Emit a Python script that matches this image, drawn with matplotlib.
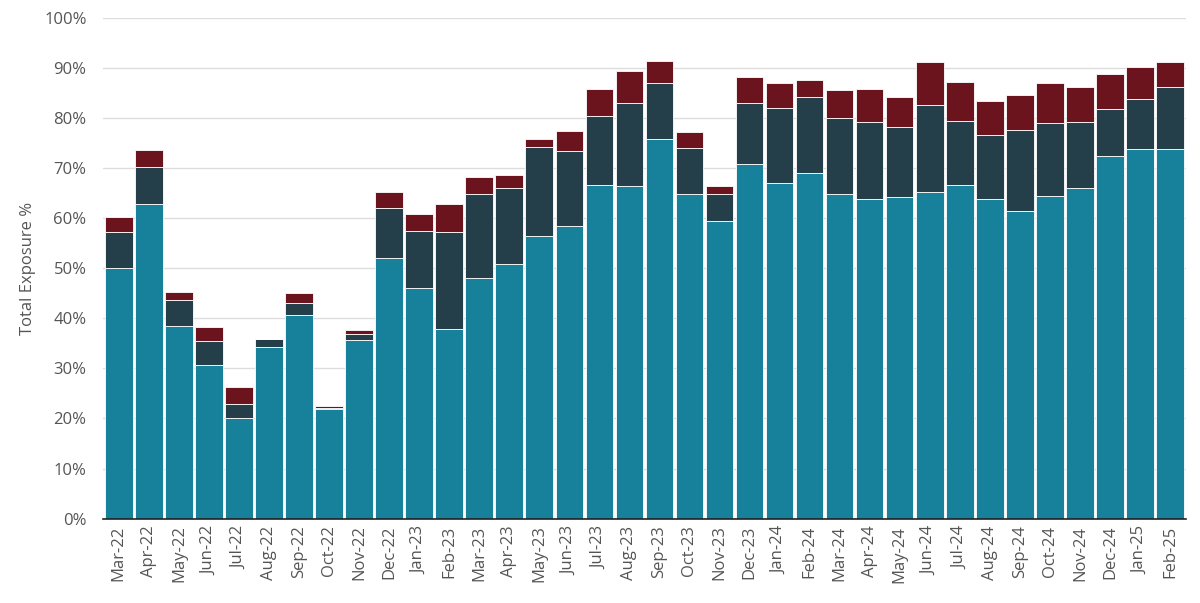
import numpy as np
import matplotlib.pyplot as plt

# months shown on the x axis
months = ['Mar-22', 'Apr-22', 'May-22', 'Jun-22', 'Jul-22', 'Aug-22', 'Sep-22', 'Oct-22',
          'Nov-22', 'Dec-22', 'Jan-23', 'Feb-23', 'Mar-23', 'Apr-23', 'May-23', 'Jun-23',
          'Jul-23', 'Aug-23', 'Sep-23', 'Oct-23', 'Nov-23', 'Dec-23', 'Jan-24', 'Feb-24',
          'Mar-24', 'Apr-24', 'May-24', 'Jun-24', 'Jul-24', 'Aug-24', 'Sep-24', 'Oct-24',
          'Nov-24', 'Dec-24', 'Jan-25', 'Feb-25']

# exposure segments in % (bottom teal, middle dark, top red)
teal = [50.0, 62.8, 38.5, 30.7, 20.0, 34.2, 40.7, 21.8, 35.6, 52.0, 46.0, 37.9,
        48.0, 50.8, 56.4, 58.5, 66.7, 66.5, 75.8, 64.9, 59.4, 70.9, 67.0, 69.0,
        64.8, 63.8, 64.2, 65.3, 66.7, 63.8, 61.4, 64.5, 66.0, 72.4, 73.8, 73.8]
dark = [7.3, 7.5, 5.2, 4.8, 2.8, 1.6, 2.4, 0.2, 1.2, 10.0, 11.5, 19.3,
        16.8, 15.2, 17.8, 15.0, 13.8, 16.5, 11.2, 9.1, 5.4, 12.2, 15.0, 15.3,
        15.2, 15.5, 14.1, 17.3, 12.7, 12.9, 16.2, 14.5, 13.2, 9.4, 10.1, 12.4]
red = [3.0, 3.3, 1.5, 2.8, 3.4, 0.0, 1.9, 0.4, 0.8, 3.2, 3.4, 5.7,
       3.4, 2.7, 1.7, 4.0, 5.3, 6.4, 4.5, 3.3, 1.6, 5.2, 5.1, 3.4,
       5.6, 6.6, 6.0, 8.6, 7.8, 6.7, 7.0, 8.0, 7.0, 7.1, 6.4, 5.0]

plt.rcParams['font.family'] = ['Open Sans', 'DejaVu Sans']

fig, ax = plt.subplots(figsize=(12, 6.03), dpi=100)
fig.subplots_adjust(left=0.086, right=0.988, top=0.97, bottom=0.14)

x = np.arange(len(months))
teal = np.array(teal)
dark = np.array(dark)
red = np.array(red)
w = 0.92
ax.bar(x, teal, w, color='#17819B', edgecolor='white', linewidth=0.6, zorder=2)
ax.bar(x, dark, w, bottom=teal, color='#243F4A', edgecolor='white', linewidth=0.6, zorder=2)
ax.bar(x, red, w, bottom=teal + dark, color='#6B141E', edgecolor='white', linewidth=0.6, zorder=2)

ax.set_xlim(-0.52, len(months) - 0.48)
ax.set_ylim(0, 100)
ax.set_yticks(np.arange(0, 101, 10))
ax.set_yticklabels([f'{v}%' for v in range(0, 101, 10)])
ax.set_xticks(x)
ax.set_xticklabels(months, rotation=90)
ax.tick_params(axis='both', length=0, labelsize=12, colors='#555555')
ax.tick_params(axis='y', pad=12)
ax.tick_params(axis='x', pad=5)
ax.grid(axis='y', color='#DDDDDD', linewidth=1, zorder=0)
ax.set_ylabel('Total Exposure %', fontsize=12, color='#555555', labelpad=6)

for s in ['top', 'right', 'left']:
    ax.spines[s].set_visible(False)
ax.spines['bottom'].set_color('#222222')
ax.spines['bottom'].set_linewidth(1.2)

plt.savefig('out.png', dpi=100)
